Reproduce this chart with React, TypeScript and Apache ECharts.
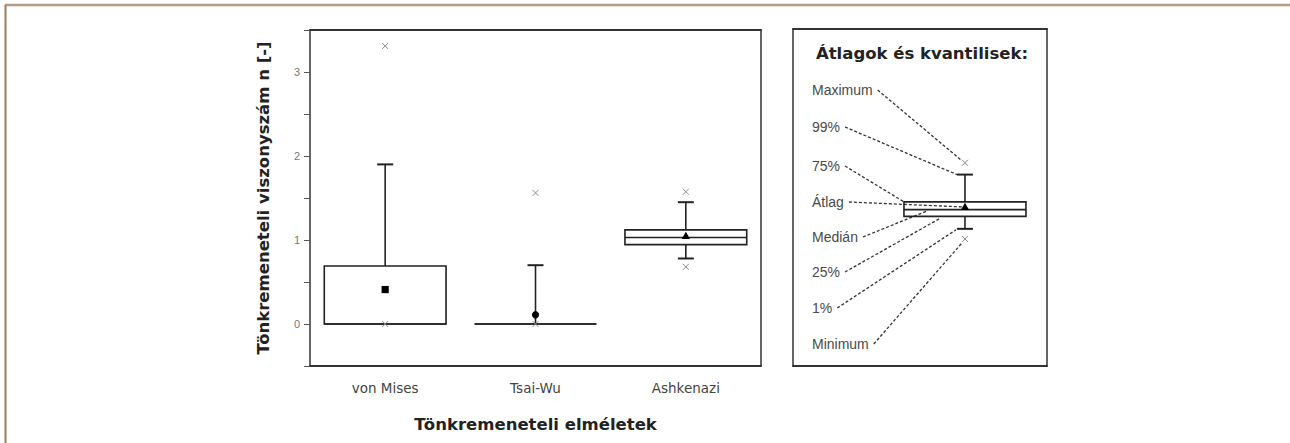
import React, { useEffect, useRef } from 'react';
import * as echarts from 'echarts';

// ---- data ----
const categories = ['von Mises', 'Tsai-Wu', 'Ashkenazi'];
const p1Values = [0, 0, 0.78];
const q25Values = [0, 0, 0.945];
const medianValues = [0, 0, 1.03];
const q75Values = [0.69, 0, 1.12];
const p99Values = [1.9, 0.7, 1.45];
const meanValues = [0.41, 0.11, 1.05];
const minValues = [0, 0, 0.68];
const maxValues = [3.31, 1.56, 1.575];

const yAxisTitle = 'Tönkremeneteli viszonyszám n [-]';
const xAxisTitle = 'Tönkremeneteli elméletek';

const legendTitle = 'Átlagok és kvantilisek:';
const legendLabels = ['Maximum', '99%', '75%', 'Átlag', 'Medián', '25%', '1%', 'Minimum'];
// sample box of the legend: p1, q25, median, q75, p99, mean, min, max
const legendSampleValues = [4.07, 4.44, 4.64, 4.87, 5.68, 4.72, 3.77, 6.03];

// ---- styles / layout ----
const FONT = '"Liberation Sans", Arial, sans-serif';
const WIDE = '"DejaVu Sans", Verdana, sans-serif';
const MEAN_SHAPES = ['square', 'circle', 'triangle'];
const LEGEND_LABEL_DY = [61, 98, 137, 173, 208, 243, 279, 315];
const INK = '#222';

function measure(text: string, font: string): number {
  const ctx = document.createElement('canvas').getContext('2d');
  if (!ctx) return text.length * 7;
  ctx.font = font;
  return ctx.measureText(text).width;
}

function meanMarker(shape: string, x: number, y: number) {
  const s = 3.6;
  if (shape === 'circle') {
    return { type: 'circle', shape: { cx: x, cy: y, r: s }, style: { fill: '#000' } };
  }
  if (shape === 'triangle') {
    return {
      type: 'polygon',
      shape: { points: [[x, y - s - 0.5], [x + s + 0.5, y + s - 0.5], [x - s - 0.5, y + s - 0.5]] },
      style: { fill: '#000' },
    };
  }
  return { type: 'rect', shape: { x: x - s, y: y - s, width: 2 * s, height: 2 * s }, style: { fill: '#000' } };
}

function xMarker(x: number, y: number) {
  const s = 3;
  const st = { stroke: '#8a8a8a', lineWidth: 1 };
  return [
    { type: 'line', shape: { x1: x - s, y1: y - s, x2: x + s, y2: y + s }, style: st },
    { type: 'line', shape: { x1: x - s, y1: y + s, x2: x + s, y2: y - s }, style: st },
  ];
}

// py: [p1, q25, median, q75, p99, mean, min, max] in pixel y
function boxChildren(cx: number, halfW: number, py: number[], shape: string) {
  const [yP1, yQ25, yMed, yQ75, yP99, yMean, yMin, yMax] = py;
  const line = { stroke: INK, lineWidth: 1.6 };
  const cap = 8;
  const ch: any[] = [];
  if (yP99 < yQ75 - 0.5) {
    ch.push({ type: 'line', shape: { x1: cx, y1: yQ75, x2: cx, y2: yP99 }, style: line });
    ch.push({ type: 'line', shape: { x1: cx - cap, y1: yP99, x2: cx + cap, y2: yP99 }, style: { stroke: INK, lineWidth: 2 } });
  }
  if (yP1 > yQ25 + 0.5) {
    ch.push({ type: 'line', shape: { x1: cx, y1: yQ25, x2: cx, y2: yP1 }, style: line });
    ch.push({ type: 'line', shape: { x1: cx - cap, y1: yP1, x2: cx + cap, y2: yP1 }, style: { stroke: INK, lineWidth: 2 } });
  }
  ch.push({
    type: 'polygon',
    shape: { points: [[cx - halfW, yQ75], [cx + halfW, yQ75], [cx + halfW, yQ25], [cx - halfW, yQ25]] },
    style: { fill: 'none', stroke: INK, lineWidth: 1.6 },
  });
  ch.push({ type: 'line', shape: { x1: cx - halfW, y1: yMed, x2: cx + halfW, y2: yMed }, style: line });
  ch.push(...xMarker(cx, yMin));
  ch.push(...xMarker(cx, yMax));
  ch.push(meanMarker(shape, cx, yMean));
  return ch;
}

export default function App() {
  const ref = useRef<HTMLDivElement>(null);

  useEffect(() => {
    if (!ref.current) return;
    const chart = echarts.init(ref.current, undefined, { renderer: 'svg' });

    const mainData = categories.map((_, i) => [
      i, p1Values[i], q25Values[i], medianValues[i], q75Values[i], p99Values[i], meanValues[i], minValues[i], maxValues[i],
    ]);
    const legendData = [[0.677, ...legendSampleValues]];
    const labelFont = `14px ${FONT}`;

    const option: any = {
      animation: false,
      backgroundColor: '#fff',
      textStyle: { fontFamily: FONT },
      grid: [
        { left: 310, top: 30, width: 451, height: 336, show: false },
        { left: 793, top: 29, width: 254, height: 337, show: false },
      ],
      xAxis: [
        {
          gridIndex: 0, type: 'category', data: categories, boundaryGap: true, position: 'bottom',
          axisLine: { onZero: false, lineStyle: { color: '#333', width: 2 } },
          axisTick: { alignWithLabel: true, length: 6, lineStyle: { color: '#333', width: 1.2 } },
          axisLabel: { margin: 15, fontSize: 13.5, color: '#444', fontFamily: WIDE },
          name: xAxisTitle, nameLocation: 'middle', nameGap: 50,
          nameTextStyle: { fontSize: 16.5, fontWeight: 'bold', color: INK, fontFamily: WIDE },
        },
        {
          gridIndex: 0, type: 'category', data: categories, boundaryGap: true, position: 'top',
          axisLine: { onZero: false, lineStyle: { color: '#333', width: 2 } },
          axisTick: { show: false }, axisLabel: { show: false },
        },
        {
          gridIndex: 1, type: 'value', min: 0, max: 1, position: 'bottom',
          axisLine: { show: true, onZero: false, lineStyle: { color: '#333', width: 2 } },
          axisTick: { show: false }, axisLabel: { show: false }, splitLine: { show: false },
        },
        {
          gridIndex: 1, type: 'value', min: 0, max: 1, position: 'top',
          axisLine: { show: true, onZero: false, lineStyle: { color: '#333', width: 2 } },
          axisTick: { show: false }, axisLabel: { show: false }, splitLine: { show: false },
        },
      ],
      yAxis: [
        {
          gridIndex: 0, type: 'value', min: -0.5, max: 3.5, interval: 0.5, position: 'left',
          axisLine: { show: true, onZero: false, lineStyle: { color: '#333', width: 1.5 } },
          axisTick: { show: true, length: 6, lineStyle: { color: '#555', width: 1 } },
          axisLabel: {
            margin: 10, fontSize: 11, color: '#777', fontFamily: FONT,
            formatter: (v: number) => (Number.isInteger(v) ? String(v) : ''),
          },
          splitLine: { show: false },
          name: yAxisTitle, nameLocation: 'middle', nameGap: 38, nameRotate: 90,
          nameTextStyle: { fontSize: 16.5, fontWeight: 'bold', color: INK, fontFamily: WIDE },
        },
        {
          gridIndex: 0, type: 'value', min: -0.5, max: 3.5, position: 'right',
          axisLine: { show: true, onZero: false, lineStyle: { color: '#333', width: 1.5 } },
          axisTick: { show: false }, axisLabel: { show: false }, splitLine: { show: false },
        },
        {
          gridIndex: 1, type: 'value', min: 0, max: 10, position: 'left',
          axisLine: { show: true, onZero: false, lineStyle: { color: '#333', width: 1.5 } },
          axisTick: { show: false }, axisLabel: { show: false }, splitLine: { show: false },
        },
        {
          gridIndex: 1, type: 'value', min: 0, max: 10, position: 'right',
          axisLine: { show: true, onZero: false, lineStyle: { color: '#333', width: 1.5 } },
          axisTick: { show: false }, axisLabel: { show: false }, splitLine: { show: false },
        },
      ],
      series: [
        {
          type: 'custom', xAxisIndex: 0, yAxisIndex: 0, data: mainData,
          encode: { x: 0, y: [1, 2, 3, 4, 5, 6, 7, 8] },
          renderItem: (params: any, api: any) => {
            const i = api.value(0);
            const py = [1, 2, 3, 4, 5, 6, 7, 8].map((d) => api.coord([i, api.value(d)])[1]);
            const cx = api.coord([i, 0])[0];
            const halfW = api.size([1, 0])[0] * 0.405;
            return { type: 'group', children: boxChildren(cx, halfW, py, MEAN_SHAPES[i]) };
          },
        },
        {
          type: 'custom', xAxisIndex: 2, yAxisIndex: 2, data: legendData,
          encode: { x: 0, y: [1, 2, 3, 4, 5, 6, 7, 8] },
          renderItem: (params: any, api: any) => {
            const xv = api.value(0);
            const vals = [1, 2, 3, 4, 5, 6, 7, 8].map((d) => api.value(d));
            const py = vals.map((v) => api.coord([xv, v])[1]);
            const cx = api.coord([xv, 0])[0];
            const halfW = 61;
            const [yP1, yQ25, yMed, yQ75, yP99, yMean, yMin, yMax] = py;
            const cs = params.coordSys;
            const lx = cs.x + 19;
            const children: any[] = [];
            children.push({
              type: 'text',
              style: {
                text: legendTitle, x: cs.x + cs.width / 2 + 2, y: cs.y + 24,
                align: 'center', verticalAlign: 'middle',
                font: `bold 16.5px ${WIDE}`, fill: INK,
              },
            });
            const targets = [
              [cx - 3, yMax - 2],
              [cx - 8, yP99],
              [cx - halfW, yQ75],
              [cx - 2, yMean],
              [cx - halfW + 24, yMed + 1],
              [cx - halfW + 36, yQ25 + 2],
              [cx - 9, yP1 + 1],
              [cx - 3, yMin + 4],
            ];
            legendLabels.forEach((lab, k) => {
              const ly = cs.y + LEGEND_LABEL_DY[k];
              children.push({
                type: 'text',
                style: { text: lab, x: lx, y: ly, align: 'left', verticalAlign: 'middle', font: labelFont, fill: '#4a4a4a' },
              });
              const w = measure(lab, labelFont);
              children.push({
                type: 'line',
                shape: { x1: lx + w + 5, y1: ly, x2: targets[k][0], y2: targets[k][1] },
                style: { stroke: '#333', lineWidth: 1.3, lineDash: [3, 2] },
              });
            });
            children.push(...boxChildren(cx, halfW, py, 'triangle'));
            return { type: 'group', children };
          },
        },
      ],
      graphic: [
        { type: 'line', shape: { x1: 5, y1: 5, x2: 1290, y2: 5 }, style: { stroke: '#b39d80', lineWidth: 2.5 } },
        { type: 'line', shape: { x1: 5.5, y1: 5, x2: 5.5, y2: 443 }, style: { stroke: '#9c7d58', lineWidth: 2 } },
      ],
    };

    chart.setOption(option);
    return () => chart.dispose();
  }, []);

  return (
    <div
      ref={ref}
      style={{ position: 'fixed', left: 0, top: 0, width: '1290px', height: '443px', background: '#fff' }}
    />
  );
}
